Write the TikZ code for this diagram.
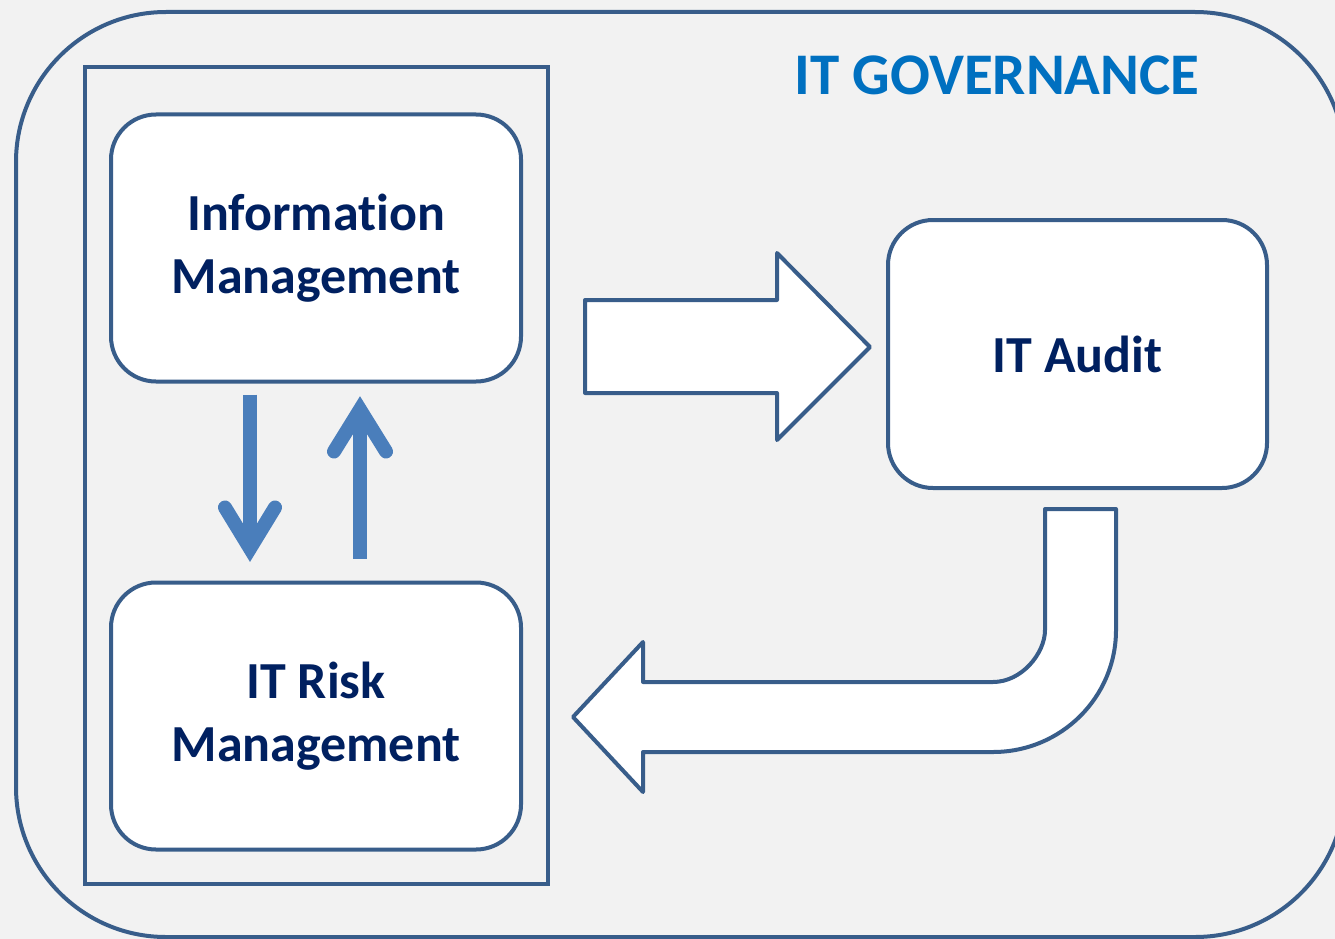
\documentclass[tikz,border=0pt]{standalone}
\usepackage{fontspec}
\setmainfont{Carlito}[Ligatures=NoCommon]
\usetikzlibrary{calc}
\definecolor{bg}{HTML}{F2F2F2}
\definecolor{outl}{HTML}{385D8A}
\definecolor{arr}{HTML}{4A7EBB}
\definecolor{txt}{HTML}{002060}
\definecolor{ttl}{HTML}{0070C0}
\tikzset{
  box/.style={draw=outl, line width=4pt, fill=white, rounded corners=45pt,
    minimum width=410pt, minimum height=267pt, align=center, text=txt,
    font=\fontsize{52}{63}\selectfont\bfseries, inner sep=0pt},
  blockarrow/.style={draw=outl, line width=4pt, fill=white, line join=round},
  smallshaft/.style={draw=arr, line width=14pt},
  smallhead/.style={draw=arr, line width=14pt, line cap=round, line join=miter},
}
\begin{document}
\begin{tikzpicture}[x=1pt,y=-1pt]
\useasboundingbox (0,0) rectangle (1335,939);
\fill[bg] (0,0) rectangle (1335,939);
\begin{scope}
\clip (0,0) rectangle (1335,939);
\draw[outl, line width=4pt, rounded corners=150pt] (16,12) rectangle (1345,937);
\end{scope}
\node[text=ttl, font=\fontsize{59}{70}\selectfont\bfseries, anchor=base] (title) at (997,95) {IT GOVERNANCE};
\draw[outl, line width=4pt] (85,67) rectangle (548,884);
\node[box] (info) at (316,248) {Information\\Management};
\node[box] (risk) at (316,716) {IT Risk\\Management};
\node[box, minimum width=379pt, minimum height=268pt] (audit) at (1077.5,354) {IT Audit};
% small arrows
\coordinate (d0) at ($(info.south)+(-66,11)$);
\coordinate (d1) at ($(risk.north)+(-66,-32)$);
\coordinate (u0) at ($(risk.north)+(44,-22)$);
\coordinate (u1) at ($(info.south)+(44,26)$);
\draw[smallshaft] (d0) -- (d1);
\draw[smallhead] ($(d1)+(-25,-41)$) -- (d1) -- ($(d1)+(25,-41)$);
\draw[smallshaft] (u0) -- (u1);
\draw[smallhead] ($(u1)+(-26,42)$) -- (u1) -- ($(u1)+(26,42)$);
% block arrow right
\draw[blockarrow] (585,300) -- (777,300) -- (777,253) -- (870,347) -- (777,440) -- (777,393) -- (585,393) -- cycle;
% U-turn arrow
\draw[blockarrow] (1045,509) -- (1116,509) -- (1116,630)
  .. controls (1116,697.4) and (1061,752) .. (993,752)
  -- (643,752) -- (643,792) -- (573,717) -- (643,642) -- (643,682) -- (993,682)
  .. controls (1021.7,682) and (1045,653.3) .. (1045,630) -- cycle;
\end{tikzpicture}
\end{document}
